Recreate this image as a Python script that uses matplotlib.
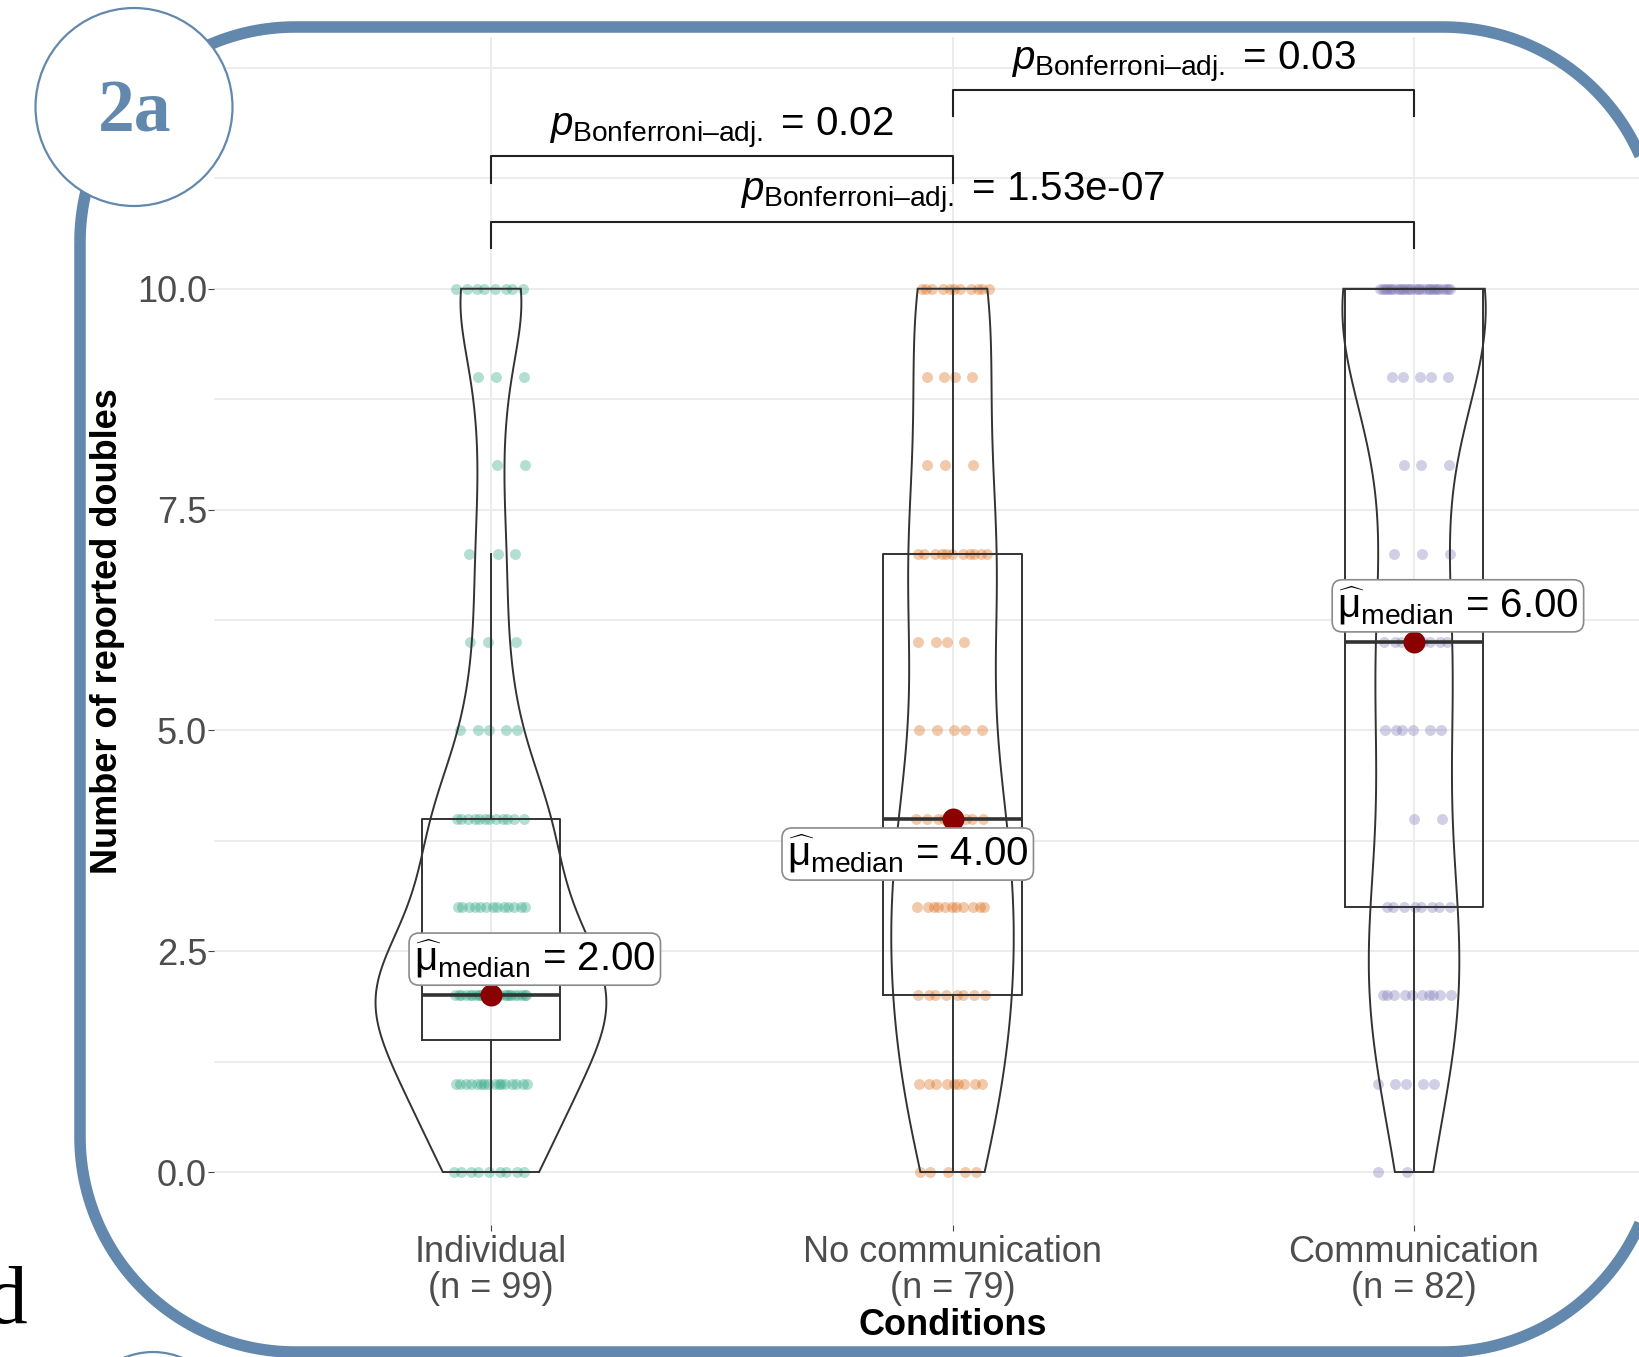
import numpy as np
import matplotlib
matplotlib.use("Agg")
import matplotlib.pyplot as plt
from matplotlib.patches import Polygon, Ellipse

plt.rcParams['font.family'] = ['Liberation Sans', 'DejaVu Sans']
plt.rcParams['mathtext.fontset'] = 'custom'
plt.rcParams['mathtext.rm'] = 'Liberation Sans'
plt.rcParams['mathtext.it'] = 'Liberation Sans:italic'
plt.rcParams['mathtext.bf'] = 'Liberation Sans:bold'

# number of participants per reported value (0..10)
levels = np.arange(11)
counts_individual = [9, 16, 25, 13, 12, 5, 3, 3, 2, 3, 8]     # n = 99
counts_nocomm = [5, 9, 8, 11, 8, 5, 4, 11, 3, 4, 11]          # n = 79
counts_comm = [2, 5, 10, 8, 2, 6, 9, 3, 3, 5, 29]             # n = 82
conditions = ['Individual', 'No communication', 'Communication']
group_colors = ['#1B9E77', '#D95F02', '#7570B3']

# pairwise comparisons: (group a, group b), bonferroni-adjusted p
pairs = [(1, 2), (2, 3), (1, 3)]
p_values = ['0.02', '0.03', '1.53e-07']
bracket_y = [11.5, 12.25, 10.76]

# where the median labels sit (data coords)
label_pos = [(1.095, 2.41), (1.903, 3.6), (3.095, 6.41)]

frame_col = '#6388ad'
line_col = '#333333'

groups = [np.repeat(levels, c).astype(float)
          for c in (counts_individual, counts_nocomm, counts_comm)]


def ydensity(vals, grid):
    # gaussian kde with R's bw.nrd0, like ggplot's stat_ydensity
    n = len(vals)
    q1, q3 = np.percentile(vals, [25, 75])
    bw = 0.9 * min(vals.std(ddof=1), (q3 - q1) / 1.34) * n ** -0.2
    z = (grid[:, None] - vals[None, :]) / bw
    return np.exp(-0.5 * z ** 2).sum(axis=1) / (n * bw * np.sqrt(2 * np.pi))


def rounded_rect(left, top, right, bottom, r, npts=60):
    # closed outline with circular corners (y grows downward)
    t = np.linspace(0, np.pi / 2, npts)
    tl = np.c_[left + r - r * np.cos(t), top + r - r * np.sin(t)]
    tr = np.c_[right - r + r * np.sin(t), top + r - r * np.cos(t)]
    br = np.c_[right - r + r * np.cos(t), bottom - r + r * np.sin(t)]
    bl = np.c_[left + r - r * np.sin(t), bottom - r + r * np.cos(t)]
    return np.vstack([tl, tr, br, bl])


fig = plt.figure(figsize=(16.4, 13.57), dpi=100)
ax = fig.add_axes([214 / 1640, 132 / 1357, 1477 / 1640, 1188 / 1357])
ax.set_xlim(0.4, 3.6)
ax.set_ylim(-0.6, 12.85)

# jittered points (deterministic spread inside each level)
for i, vals in enumerate(groups):
    xs = []
    ys = []
    for lv in levels:
        k = int((vals == lv).sum())
        off = ((np.arange(k) * 0.618034 + 0.37 * lv + 0.2 * i) % 1 - 0.5) * 0.16
        xs.extend(i + 1 + off)
        ys.extend([lv] * k)
    ax.scatter(xs, ys, s=62, color=group_colors[i], alpha=0.33, lw=0, zorder=2)

# boxplots
ax.boxplot(groups, positions=[1, 2, 3], widths=0.3, whis=1.5, showfliers=False,
           showcaps=False, manage_ticks=False,
           boxprops=dict(color=line_col, lw=1.4),
           whiskerprops=dict(color=line_col, lw=1.4),
           medianprops=dict(color=line_col, lw=2.6), zorder=3)

# violins, scale='area' -> widths relative to the overall max density
dens = []
for vals in groups:
    grid = np.linspace(vals.min(), vals.max(), 512)
    dens.append((grid, ydensity(vals, grid)))
dmax = max(d.max() for g, d in dens)
for i, (grid, d) in enumerate(dens):
    half = 0.25 * d / dmax
    xv = np.concatenate([i + 1 - half, (i + 1 + half)[::-1]])
    yv = np.concatenate([grid, grid[::-1]])
    ax.fill(xv, yv, facecolor='none', edgecolor=line_col, lw=1.4, zorder=3)

# medians + labels
for i, vals in enumerate(groups):
    med = np.median(vals)
    ax.scatter([i + 1], [med], s=250, color='#8B0000', zorder=5, lw=0)
    lx, ly = label_pos[i]
    ax.text(lx, ly, r'$\widehat{\mathrm{\mu}}_{\mathrm{median}}$ = %.2f' % med,
            ha='center', va='center', fontsize=29, color='black', zorder=6,
            bbox=dict(boxstyle='round,pad=0.12,rounding_size=0.25',
                      fc='white', ec='#8a8a8a', lw=1.2))

# significance brackets
for (a, b), p, yb in zip(pairs, p_values, bracket_y):
    ax.plot([a, a, b, b], [yb - 0.3, yb, yb, yb - 0.3], color='#222222', lw=1.5,
            zorder=4)
    ax.text((a + b) / 2, yb + 0.07,
            r'$p_{\mathrm{Bonferroni–adj.}}$ = ' + p,
            ha='center', va='bottom', fontsize=29, color='black', zorder=6)

# grid
grid_lines = []
for yg in np.arange(0, 12.6, 1.25):
    grid_lines.append(ax.axhline(yg, color='#ebebeb', lw=1.3, zorder=0))
for xg in [1, 2, 3]:
    grid_lines.append(ax.axvline(xg, color='#ebebeb', lw=1.3, zorder=0))

ax.set_yticks([0, 2.5, 5, 7.5, 10], ['0.0', '2.5', '5.0', '7.5', '10.0'])
ax.set_xticks([1, 2, 3], ['%s\n(n = %d)' % (c, len(g))
                          for c, g in zip(conditions, groups)])
ax.tick_params(axis='both', length=4, width=0.8, color='#444444',
               labelcolor='#4D4D4D', labelsize=26)
ax.tick_params(axis='y', pad=1)
ax.tick_params(axis='x', pad=3)
for t in ax.get_xticklabels():
    t.set_linespacing(1.05)
for s in ax.spines.values():
    s.set_visible(False)

ax.set_ylabel('Number of reported doubles', fontsize=26, fontweight='bold')
ax.yaxis.set_label_coords(-0.072, 0.5)
ax.yaxis.label.set_va('center')
ax.set_xlabel('Conditions', fontsize=26, fontweight='bold')
ax.xaxis.set_label_coords(0.5, -0.085)
ax.xaxis.label.set_va('center')

# page decoration: rounded frame, badge, clipped letter
ov = fig.add_axes([0, 0, 1, 1], zorder=10)
ov.set_xlim(0, 1640)
ov.set_ylim(1357, 0)
ov.axis('off')

frame = Polygon(rounded_rect(80, 27, 1658, 1352, 215), closed=True,
                fc='none', ec=frame_col, lw=8.3, clip_on=False)
ov.add_patch(frame)
for gl in grid_lines:
    gl.set_clip_path(frame)

ov.add_patch(Ellipse((134, 107), 197, 198, fc='white', ec=frame_col, lw=1.6,
                     zorder=5, clip_on=False))
ov.add_patch(Ellipse((153, 1451), 172, 198, fc='white', ec=frame_col, lw=1.6,
                     zorder=5, clip_on=False))
ov.text(135, 132, '2a', fontsize=53, family='Liberation Serif', weight='bold',
        color=frame_col, ha='center', va='baseline', zorder=6)
ov.text(28, 1323, 'd', fontsize=60, family='Liberation Serif', color='black',
        ha='right', va='baseline')

fig.savefig('out.png', dpi=100)
